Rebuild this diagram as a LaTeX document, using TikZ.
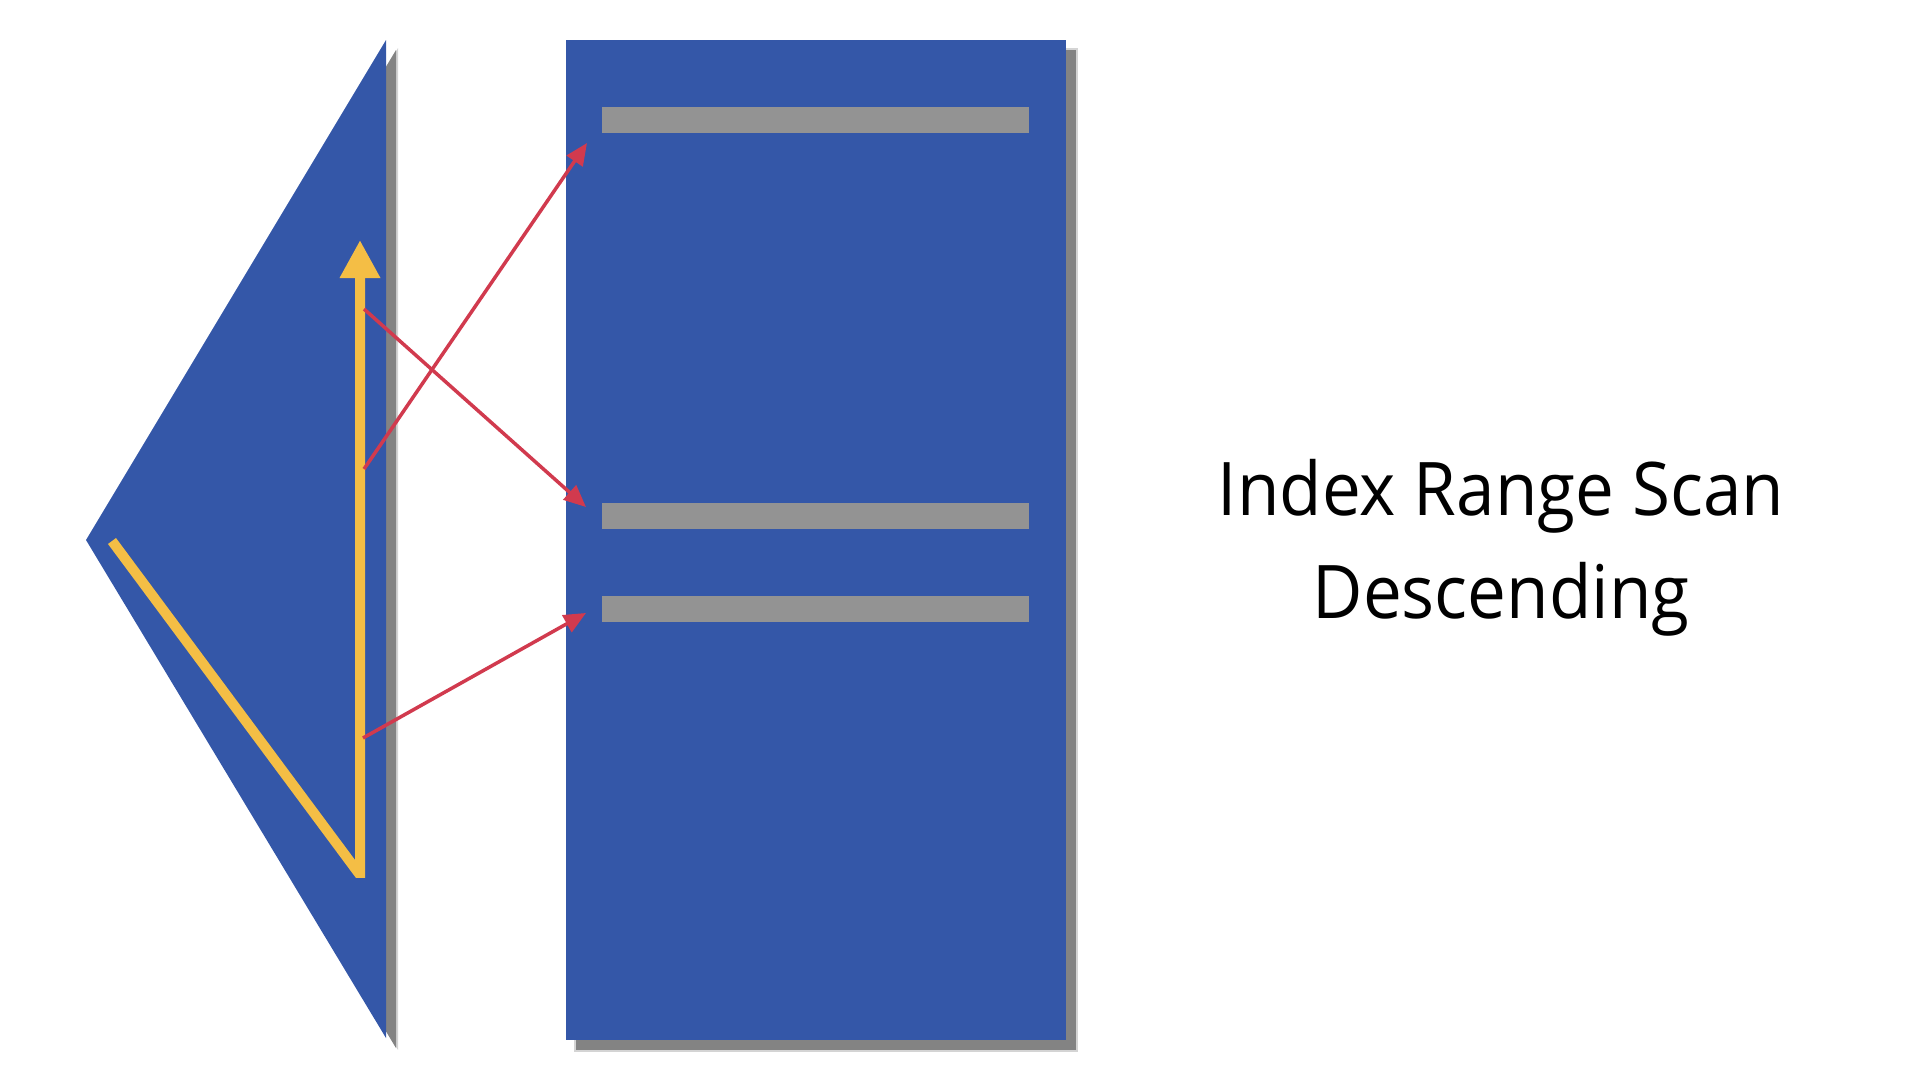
\documentclass[tikz,border=0pt]{standalone}
\usepackage{fontspec}
\setmainfont[FakeStretch=0.935]{Open Sans}
\usetikzlibrary{arrows.meta}
\definecolor{idxblue}{HTML}{3457A8}
\definecolor{scanyel}{HTML}{F4BE45}
\definecolor{ptrred}{HTML}{D13A4E}
\definecolor{rowgray}{HTML}{939393}
\definecolor{shadgray}{HTML}{838383}
\tikzset{
  shapefill/.style={fill=idxblue, draw=none},
  shadowfill/.style={fill=shadgray, draw=none},
  softshadow/.style={fill=shadgray, draw=none, opacity=0.35},
  rowbar/.style={fill=rowgray, draw=none, rectangle, inner sep=0pt, minimum width=427pt, minimum height=26pt, anchor=north west},
  rowptr/.style={draw=ptrred, line width=3.5pt, -{Triangle[length=22pt,width=19pt]}},
  scanline/.style={draw=scanyel, line width=10pt, line join=miter, line cap=butt, -{Triangle[length=38pt,width=38pt]}},
  title/.style={font=\fontsize{74}{90}\selectfont, text=black, anchor=base, inner sep=0pt}
}
\begin{document}
\begin{tikzpicture}[x=1pt,y=-1pt]
\useasboundingbox (0,0) rectangle (1920,1080);
% soft shadow edges
\fill[softshadow] (97,550) -- (398,48) -- (398,1050) -- cycle;
\fill[softshadow] (574,48) rectangle (1078,1052);
% shadows
\fill[shadowfill] (96,550) -- (396,50) -- (396,1048) -- cycle;
\fill[shadowfill] (576,50) rectangle (1076,1050);
% index triangle and table
\fill[shapefill] (86,540) -- (386,40) -- (386,1038) -- cycle;
\fill[shapefill] (566,40) rectangle (1066,1040);
% rows
\node[rowbar] (r1) at (602,107) {};
\node[rowbar] (r2) at (602,503) {};
\node[rowbar] (r3) at (602,596) {};
% scan path
\coordinate (s0) at (112,541);
\coordinate (s1) at (360,875);
\coordinate (s2) at (360,240);
\begin{scope}
\clip (0,0) rectangle (1920,877);
\draw[scanline] (s0) -- (s1) -- (s2);
\end{scope}
% pointers
\coordinate (p1) at (364,309);
\coordinate (p2) at (364,469);
\coordinate (p3) at (363,738);
\coordinate (t1) at (587,143);
\coordinate (t2) at (586,507);
\coordinate (t3) at (586,613);
\draw[rowptr] (p1) -- (t2);
\draw[rowptr] (p2) -- (t1);
\draw[rowptr] (p3) -- (t3);
% title
\node[title] (l1) at (1501,515) {Index Range Scan};
\node[title] (l2) at (1501,618) {Descending};
\end{tikzpicture}
\end{document}
